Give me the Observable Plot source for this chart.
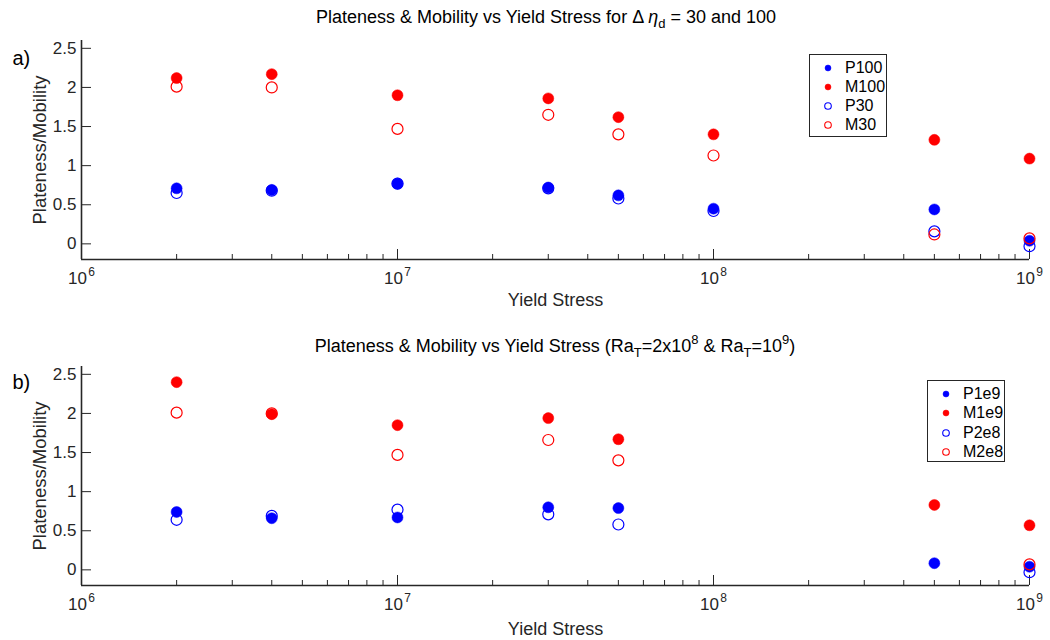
<!DOCTYPE html>
<html>
<head>
<meta charset="utf-8">
<script src="https://cdn.jsdelivr.net/npm/d3@7"></script>
<script src="https://cdn.jsdelivr.net/npm/@observablehq/plot@0.6"></script>
<style>
  html, body { margin: 0; padding: 0; background: #fff; }
  body { font-family: "Liberation Sans", Arial, sans-serif; color: #262626; }
  #wrap { position: relative; width: 1050px; height: 640px; overflow: hidden; }
  .panel { position: absolute; left: 0; width: 1050px; height: 320px; }
  .title { position: absolute; left: 81px; width: 948px; text-align: center; font-size: 18px; color: #000; line-height: 20px; white-space: nowrap; box-sizing: border-box; }
  .title sub { font-size: 13px; vertical-align: -5px; line-height: 0; }
  .title sup { font-size: 13px; vertical-align: 8px; line-height: 0; }
  .legend { position: absolute; border: 1.5px solid #262626; background: #fff; box-sizing: border-box; }
  .legend .item { position: absolute; left: 0; height: 18px; line-height: 18px; font-size: 16px; color: #000; }
  .legend .item svg { position: absolute; top: 0; }
  .legend .item span { position: absolute; left: 35px; white-space: nowrap; }
</style>
</head>
<body>
<div id="wrap"></div>
<script>
// ---------- data ----------
const xDomain = [1e6, 1e9];
const yDomain = [-0.2, 2.6];
const yTicks = [0, 0.5, 1, 1.5, 2, 2.5];
const xMajorTicks = [1e6, 1e7, 1e8, 1e9];
const xTickExponents = ["6", "7", "8", "9"];
const xMinorTicks = [2e6,3e6,4e6,5e6,6e6,7e6,8e6,9e6,2e7,3e7,4e7,5e7,6e7,7e7,8e7,9e7,2e8,3e8,4e8,5e8,6e8,7e8,8e8,9e8];

// Panel a
const xA = [2e6, 4e6, 1e7, 3e7, 5e7, 1e8, 5e8, 1e9];
const P100 = [0.71, 0.69, 0.77, 0.72, 0.62, 0.45, 0.44, 0.04];
const M100 = [2.12, 2.17, 1.90, 1.86, 1.62, 1.40, 1.33, 1.09];
const P30  = [0.65, 0.68, 0.77, 0.71, 0.58, 0.42, 0.16, -0.03];
const M30  = [2.01, 2.00, 1.47, 1.65, 1.40, 1.13, 0.12, 0.07];

// Panel b
const xB1e9 = [2e6, 4e6, 1e7, 3e7, 5e7, 5e8, 1e9];
const P1e9 = [0.74, 0.66, 0.67, 0.80, 0.79, 0.085, 0.04];
const M1e9 = [2.40, 1.99, 1.85, 1.94, 1.67, 0.83, 0.57];
const xB2e8 = [2e6, 4e6, 1e7, 3e7, 5e7, 1e9];
const P2e8 = [0.64, 0.69, 0.77, 0.71, 0.58, -0.03];
const M2e8 = [2.01, 2.00, 1.47, 1.66, 1.40, 0.07];

const BLUE = "#0000ff", RED = "#ff0000", AXIS = "#262626";

const seriesA = [
  {name: "P100", x: xA, y: P100, color: BLUE, filled: true},
  {name: "M100", x: xA, y: M100, color: RED, filled: true},
  {name: "P30",  x: xA, y: P30,  color: BLUE, filled: false},
  {name: "M30",  x: xA, y: M30,  color: RED, filled: false}
];
const seriesB = [
  {name: "P1e9", x: xB1e9, y: P1e9, color: BLUE, filled: true},
  {name: "M1e9", x: xB1e9, y: M1e9, color: RED, filled: true},
  {name: "P2e8", x: xB2e8, y: P2e8, color: BLUE, filled: false},
  {name: "M2e8", x: xB2e8, y: M2e8, color: RED, filled: false}
];

function rows(s) { return s.x.map((x, i) => ({x, y: s.y[i]})); }

function makePanel(series, tag, mt, mb, xlabDy, tagDy) {
  const marks = [
    Plot.ruleX([xDomain[0]], {stroke: AXIS, strokeWidth: 1.6}),
    Plot.ruleY([yDomain[0]], {stroke: AXIS, strokeWidth: 1.6}),
    Plot.axisY(yTicks, {tickSize: -10, fill: "none", stroke: AXIS, label: null}),
    Plot.axisY(yTicks, {tickSize: 0, tickPadding: 5, fontSize: 17, fill: AXIS, label: null, tickFormat: d => String(d)}),
    Plot.axisX(xMajorTicks, {tickSize: -10, fill: "none", stroke: AXIS, label: null}),
    Plot.axisX(xMinorTicks, {tickSize: -5, fill: "none", stroke: AXIS, label: null}),
    Plot.text(xMajorTicks, {x: d => d, text: () => "10", frameAnchor: "bottom", dy: 24, dx: -4, fontSize: 17, fill: AXIS}),
    Plot.text(xMajorTicks, {x: d => d, text: (d, i) => xTickExponents[i], frameAnchor: "bottom", dy: 16, dx: 10, fontSize: 12, fill: AXIS}),
    Plot.text(["Yield Stress"], {frameAnchor: "bottom", dy: xlabDy, fontSize: 18, fill: AXIS}),
    Plot.text(["Plateness/Mobility"], {frameAnchor: "left", rotate: -90, textAnchor: "middle", dx: -41, fontSize: 18.5, fill: AXIS}),
    Plot.text([tag], {frameAnchor: "top-left", textAnchor: "start", lineAnchor: "middle", dx: -69, dy: tagDy, fontSize: 20, fill: "#000"})
  ];
  for (const s of series) {
    marks.push(Plot.dot(rows(s), {
      x: "x", y: "y", r: 5.5,
      fill: s.filled ? s.color : "none",
      stroke: s.color,
      strokeWidth: s.filled ? 0.5 : 1.2
    }));
  }
  return Plot.plot({
    width: 1050, height: 320,
    marginLeft: 81, marginRight: 21, marginTop: mt, marginBottom: mb,
    x: {type: "log", domain: xDomain, axis: null},
    y: {domain: yDomain, axis: null},
    style: {fontFamily: "'Liberation Sans', Arial, sans-serif", background: "white", overflow: "visible"},
    marks
  });
}

function makeLegend(series, left, top, width, height, itemTops) {
  const box = document.createElement("div");
  box.className = "legend";
  Object.assign(box.style, {left: left + "px", top: top + "px", width: width + "px", height: height + "px"});
  series.forEach((s, i) => {
    const it = document.createElement("div");
    it.className = "item";
    it.style.top = (itemTops[i] - 9) + "px";
    const svgNS = "http://www.w3.org/2000/svg";
    const svg = document.createElementNS(svgNS, "svg");
    svg.setAttribute("width", "12"); svg.setAttribute("height", "18");
    svg.style.left = "12px";
    const c = document.createElementNS(svgNS, "circle");
    c.setAttribute("cx", "6"); c.setAttribute("cy", "9"); c.setAttribute("r", s.filled ? "3" : "3.3");
    c.setAttribute("fill", s.filled ? s.color : "none");
    c.setAttribute("stroke", s.color);
    c.setAttribute("stroke-width", s.filled ? "0.5" : "1.1");
    svg.appendChild(c);
    it.appendChild(svg);
    const sp = document.createElement("span");
    sp.textContent = s.name;
    it.appendChild(sp);
    box.appendChild(it);
  });
  return box;
}

const wrap = document.getElementById("wrap");

const pa = document.createElement("div"); pa.className = "panel"; pa.style.top = "0px";
pa.appendChild(makePanel(seriesA, "a)", 40, 61, 46, 18));
wrap.appendChild(pa);

const pb = document.createElement("div"); pb.className = "panel"; pb.style.top = "320px";
pb.appendChild(makePanel(seriesB, "b)", 46, 55, 49, 16));
wrap.appendChild(pb);

const ta = document.createElement("div"); ta.className = "title";
ta.style.top = "7px"; ta.style.paddingRight = "18px";
ta.innerHTML = "Plateness &amp; Mobility vs Yield Stress for &Delta; <i>&eta;</i><sub>d</sub> = 30 and 100";
wrap.appendChild(ta);

const tb = document.createElement("div"); tb.className = "title";
tb.style.top = "336px";
tb.innerHTML = "Plateness &amp; Mobility vs Yield Stress (Ra<sub>T</sub>=2x10<sup>8</sup> &amp; Ra<sub>T</sub>=10<sup>9</sup>)";
wrap.appendChild(tb);

wrap.appendChild(makeLegend(seriesA, 809, 54, 78, 83, [13, 32, 51, 70]));
wrap.appendChild(makeLegend(seriesB, 927, 380, 78, 82, [13, 32, 52, 71]));
</script>
</body>
</html>
